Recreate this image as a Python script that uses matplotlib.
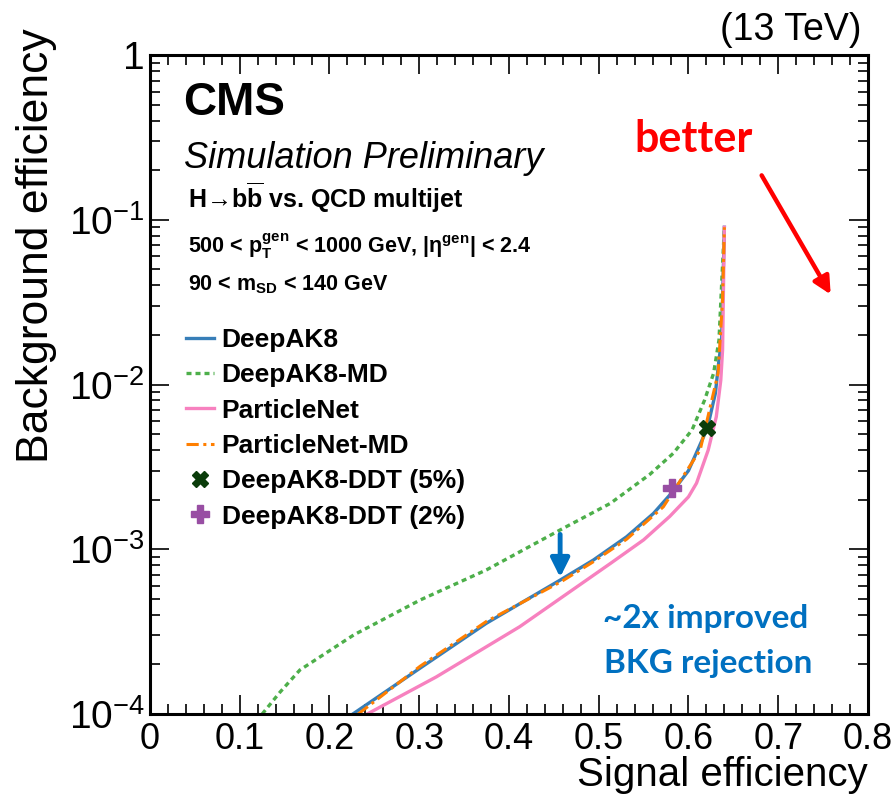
import numpy as np
import matplotlib
matplotlib.use("Agg")
import matplotlib.pyplot as plt
from matplotlib.ticker import FixedLocator, MultipleLocator, FuncFormatter, LogLocator, NullFormatter

plt.rcParams['font.family'] = ['Liberation Sans', 'DejaVu Sans']
plt.rcParams['mathtext.fontset'] = 'custom'
plt.rcParams['mathtext.rm'] = 'Liberation Sans'
plt.rcParams['mathtext.it'] = 'Liberation Sans:italic'
plt.rcParams['mathtext.bf'] = 'Liberation Sans:bold'

# ROC curves: signal efficiency vs background efficiency
deepak8_sig = [0.226, 0.301, 0.375, 0.457, 0.494, 0.531, 0.561, 0.581, 0.600, 0.621, 0.630, 0.634,
               0.637, 0.638, 0.640]
deepak8_bkg = [1.0e-4, 1.90e-4, 3.56e-4, 6.5e-4, 8.6e-4, 1.19e-3, 1.65e-3, 2.19e-3, 3.0e-3, 5.42e-3,
               8.85e-3, 1.41e-2, 1.86e-2, 3.26e-2, 9.0e-2]

deepak8md_sig = [0.125, 0.145, 0.167, 0.227, 0.301, 0.375, 0.457, 0.513, 0.557, 0.583, 0.604, 0.618,
                 0.628, 0.634, 0.637, 0.640]
deepak8md_bkg = [1.0e-4, 1.36e-4, 1.85e-4, 3.02e-4, 4.92e-4, 7.5e-4, 1.31e-3, 1.90e-3, 2.85e-3, 3.82e-3,
                 5.3e-3, 8.05e-3, 1.17e-2, 1.86e-2, 4.1e-2, 9.0e-2]

pnet_sig = [0.242, 0.319, 0.412, 0.513, 0.550, 0.579, 0.600, 0.609, 0.622, 0.631, 0.636, 0.638, 0.640]
pnet_bkg = [1.0e-4, 1.68e-4, 3.39e-4, 8.2e-4, 1.14e-3, 1.58e-3, 2.08e-3, 2.52e-3, 4.0e-3, 6.37e-3,
            1.06e-2, 1.62e-2, 9.0e-2]

pnetmd_sig = [0.232, 0.301, 0.375, 0.459, 0.494, 0.531, 0.572, 0.613, 0.633, 0.638, 0.640]
pnetmd_bkg = [1.0e-4, 1.95e-4, 3.65e-4, 6.4e-4, 8.4e-4, 1.15e-3, 1.81e-3, 4.0e-3, 1.17e-2, 3.3e-2, 9.0e-2]

# DDT working points
ddt5_sig, ddt5_bkg = [0.621], [5.42e-3]
ddt2_sig, ddt2_bkg = [0.582], [2.35e-3]

# improvement arrow between DeepAK8-MD and DeepAK8
gain_sig = 0.457
gain_from, gain_to = 1.28e-3, 6.5e-4

fig = plt.figure(figsize=(8.96, 7.97), dpi=100)
ax = fig.add_axes([0.1674, 0.1041, 0.8013, 0.8269])

ax.plot(deepak8_sig, deepak8_bkg, color='#377eb8', lw=2.4, label='DeepAK8')
ax.plot(deepak8md_sig, deepak8md_bkg, color='#4daf4a', lw=2.4, ls=(0, (1.5, 1.2)), label='DeepAK8-MD')
ax.plot(pnet_sig, pnet_bkg, color='#f781bf', lw=2.4, label='ParticleNet')
ax.plot(pnetmd_sig, pnetmd_bkg, color='#ff7f00', lw=2.2, ls=(0, (4, 1.5, 1, 1.5)), label='ParticleNet-MD')
ax.plot(ddt5_sig, ddt5_bkg, ls='none', marker='X', ms=12, color='#0b3d0b', mec='#0b3d0b',
        label='DeepAK8-DDT (5%)')
ax.plot(ddt2_sig, ddt2_bkg, ls='none', marker='P', ms=13, color='#984ea3', mec='#984ea3',
        label='DeepAK8-DDT (2%)')

ax.set_yscale('log')
ax.set_xlim(0, 0.8)
ax.set_ylim(1e-4, 1)

ax.xaxis.set_major_locator(MultipleLocator(0.1))
ax.xaxis.set_minor_locator(MultipleLocator(0.02))
ax.xaxis.set_major_formatter(FuncFormatter(lambda v, p: '0' if abs(v) < 1e-9 else '%g' % v))
ax.yaxis.set_major_locator(FixedLocator([1e-4, 1e-3, 1e-2, 1e-1, 1]))
ax.yaxis.set_minor_locator(LogLocator(base=10, subs=np.arange(2, 10)))
ax.yaxis.set_minor_formatter(NullFormatter())
ax.yaxis.set_major_formatter(FuncFormatter(
    lambda v, p: '1' if v >= 0.99 else r'$10^{%d}$' % round(np.log10(v))))

ax.tick_params(which='both', direction='in', top=True, right=True, width=1.2)
ax.tick_params(which='major', length=14)
ax.tick_params(which='minor', length=7)
ax.tick_params(axis='x', pad=6, labelsize=26)
ax.tick_params(axis='y', pad=4, labelsize=28)
for s in ax.spines.values():
    s.set_linewidth(2.2)

ax.set_xlabel('Signal efficiency', fontsize=29, ha='right', x=1.0, labelpad=-1)
ax.set_ylabel('Background efficiency', fontsize=32, ha='right', y=1.04, labelpad=8)

fig.text(0.962, 0.962, '(13 TeV)', fontsize=27, ha='right', va='center')

ax.text(0.046, 0.909, 'CMS', transform=ax.transAxes, fontsize=33, fontweight='bold', va='baseline')
ax.text(0.048, 0.8285, 'Simulation Preliminary', transform=ax.transAxes, fontsize=26, style='italic',
        va='baseline')
ax.text(0.053, 0.768, 'H\u2192b$\\mathbf{\\overline{b}}$ vs. QCD multijet', transform=ax.transAxes,
        fontsize=18, fontweight='bold', va='baseline')
ax.text(0.053, 0.6995, r'500 < p$_\mathbf{T}^\mathbf{gen}$ < 1000 GeV, |$\mathbf{\eta}^\mathbf{gen}$| < 2.4',
        transform=ax.transAxes, fontsize=15.5, fontweight='bold', va='baseline')
ax.text(0.053, 0.643, r'90 < m$_\mathbf{SD}$ < 140 GeV', transform=ax.transAxes,
        fontsize=15.5, fontweight='bold', va='baseline')

ax.legend(loc='upper left', bbox_to_anchor=(0.05, 0.586), frameon=False, borderpad=0, borderaxespad=0,
          handlelength=1.05, handletextpad=0.3, labelspacing=0.43,
          prop={'family': 'Liberation Sans', 'weight': 'bold', 'size': 19})

# annotations
ax.annotate('', xy=(gain_sig, gain_to), xytext=(gain_sig, gain_from),
            arrowprops=dict(arrowstyle='-|>', color='#0070c0', lw=3.5, mutation_scale=28))
ax.text(0.631, 0.1305, '~2x improved', transform=ax.transAxes, fontsize=24, fontweight='bold',
        color='#0070c0', family='Lato', va='baseline')
ax.text(0.633, 0.0622, 'BKG rejection', transform=ax.transAxes, fontsize=24, fontweight='bold',
        color='#0070c0', family='Lato', va='baseline')

ax.text(0.675, 0.853, 'better', transform=ax.transAxes, fontsize=31, fontweight='bold',
        color='red', family='Lato', va='baseline')
ax.annotate('', xy=(0.950, 0.633), xytext=(0.850, 0.821), xycoords='axes fraction',
            arrowprops=dict(arrowstyle='-|>', color='red', lw=3.2, mutation_scale=26))

fig.savefig('out.png', dpi=100)
